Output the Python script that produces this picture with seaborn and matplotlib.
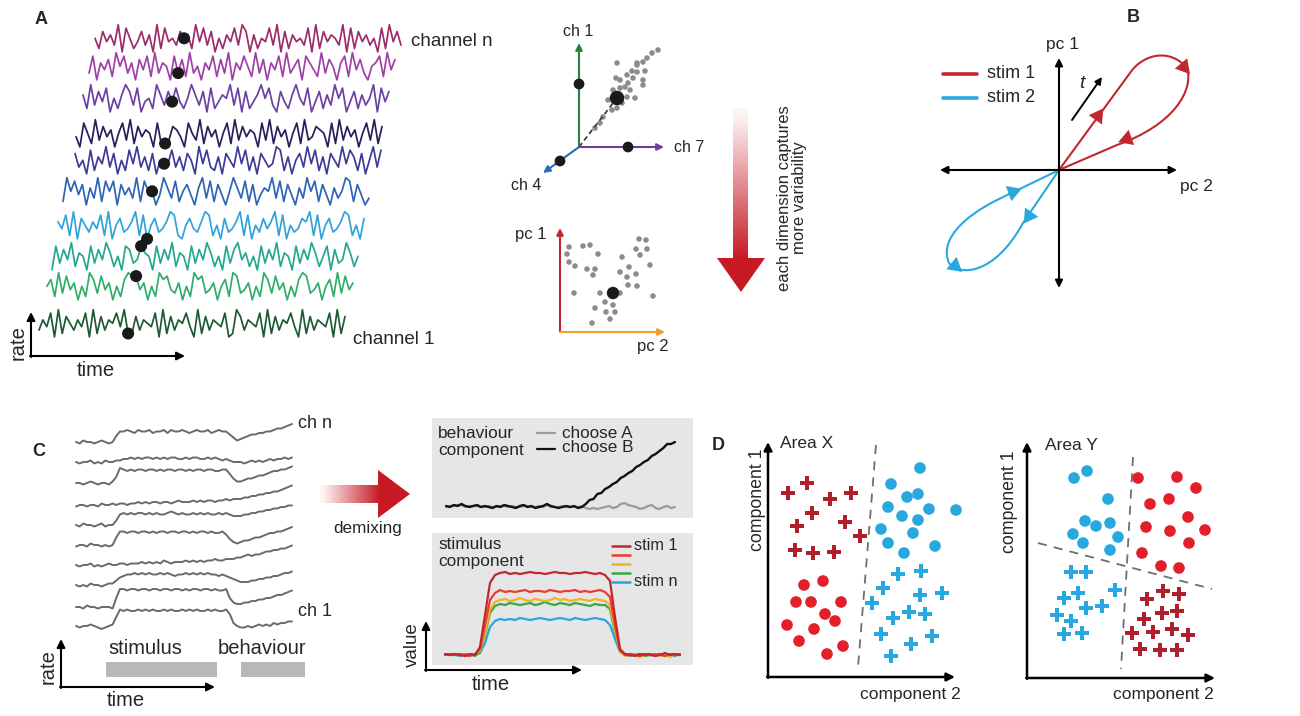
import matplotlib.pyplot as plt
import numpy as np
import pandas as pd
import seaborn as sns
from matplotlib.patches import Polygon, Rectangle, PathPatch
from matplotlib.path import Path

sns.set_theme(style="white")
plt.rcParams['font.family'] = ['Liberation Sans', 'DejaVu Sans']
plt.rcParams['font.size'] = 12

W, H = 1300, 716

# ---------------- data ----------------
# A: rate level per time bin (one digit per bin), channel n at top ... channel 1 at bottom
chan_rates = [
    "5274639185 2473619284 5375629483 7152648397 1625483917 2645381927 4653918274 6351829473",
    "3816472958 3617482936 5183729351 6482739164 8529371648 2935718642 9375168294 7315682947",
    "6293748152 6973814529 6374842596 3718246593 8172469583 1742695381 4726395814 7263591847",
    "4185293746 1583927465 1822376418 5392746158 2937465183 9274615829 3476518293 7461583927",
    "7351826493 7152849362 7154483627 5194832617 5394826175 3498261573 9482617539 4862715938",
    "2958471639 2858174639 2855149638 2574169382 7415963827 1465938274 1639582741 6359827413",
    "6482917536 4829157346 9281573469 8215743698 2517346928 1537469281 5347692815 7346982517",
    "1837492651 8374962518 7348651837 4926518374 9625183794 6251837492 6518374962 5817349625",
    "5729384615 2973846152 7988461529 7843615297 8346157298 3461529738 4615279834 6157293846",
    "3648192753 6481927365 8492273654 8192736584 1927365481 2973654819 2736584192 7365481927",
]
chan_colors = ["#9c2b6b", "#a03fa8", "#6b3fa3", "#24205a", "#3d3a98",
               "#2e64b5", "#30a3dc", "#22a88e", "#2fae6b", "#1c5a33"]
dot_bin = 23

# A: state in channel space (ch 7, ch 1) and its projections
cloud_x = [7.9, 7.3, 6.8, 6.4, 5.8, 5.3, 4.8, 4.1, 3.8, 3.7, 4.6, 4.9, 5.8, 6.4, 6.4, 5.6,
           4.8, 4.1, 3.4, 2.9, 3.8, 3.3, 2.4, 2.1, 1.6, 5.8, 6.6, 5.4, 5.1, 4.3]
cloud_y = [9.7, 9.4, 8.9, 8.5, 8.2, 7.6, 7.2, 6.7, 8.4, 6.9, 6.0, 6.4, 7.5, 6.7, 6.2, 4.9,
           5.0, 5.9, 5.7, 4.7, 3.9, 3.7, 3.0, 2.4, 1.9, 8.4, 7.6, 6.9, 5.7, 4.4]
proj_x = [0.0, 4.9, -1.9]
proj_y = [6.3, 0.0, -1.4]
state_x, state_y = 3.8, 4.9

# A: same states on pc 2 / pc 1
pc_x = [0.9, 2.3, 3.0, 0.7, 3.8, 0.9, 1.5, 2.7, 3.5, 3.3, 7.9, 8.6, 7.6, 8.7, 8.0, 6.2, 9.0,
        6.9, 6.0, 7.6, 6.7, 6.8, 7.7, 1.4, 4.0, 6.0, 9.3, 4.5, 5.3, 3.5, 4.6, 5.5, 5.0, 3.2]
pc_y = [8.5, 8.6, 8.7, 7.8, 7.8, 7.0, 6.6, 6.3, 6.3, 5.7, 9.3, 9.2, 8.3, 8.3, 7.7, 7.5, 6.7,
        6.5, 6.0, 5.8, 5.5, 4.7, 4.6, 3.9, 3.9, 3.9, 3.6, 3.0, 2.7, 2.4, 2.0, 2.0, 1.3, 0.9]
pc_state_x, pc_state_y = 5.3, 3.9

# B: trajectories (pc 2, pc 1) as bezier control points
traj1_x = [0, 7.1, 8.3, 11.0, 12.8, 13.5, 11.5, 5.8, 0]
traj1_y = [0, 9.7, 11.5, 12.3, 10.2, 8.0, 4.5, 2.5, 0]
traj2_x = [0, -6.0, -9.5, -12.0, -11.0, -10.0, -6.5, -3.6, 0]
traj2_y = [0, -2.9, -4.6, -7.0, -9.3, -10.6, -10.6, -5.3, 0]
arrow1_x, arrow1_y, arrow1_dir = [3.9, 12.5, 6.8], [5.4, 10.3, 3.1], [55, 70, 200]
arrow2_x, arrow2_y, arrow2_dir = [-4.6, -3.0, -10.4], [-2.2, -4.6, -9.6], [260, 235, 200]

# C: single-channel rates (hex digit per bin), channel n at top
c_rates = [
    "21322123212 69 9a98a99a899a8a99a989a99a89a99 753 456778899abbcde",
    "21223121322 33 44545455454545544545544545434 322 212323234344545",
    "22123212213 6c bababbabbababbabbababbabbaabb 853 345567789aabbcd",
    "12212213223 23 32334343443443454445454554556 566 6778899aabbcdef",
    "21322123122 59 a9a9aa9a9a99aba9a99a9a9a99a9a 988 899aabbccddeeff",
    "12213221212 7b babbabbababbabbabbababbabaab9 643 45567789aabbcde",
    "21223121232 23 32333434343543444545454556556 667 789899abbccddef",
    "21213221233 57 899a9a9a99a9a9899a9a9a9a99898 765 444556677889aab",
    "22132212221 8e edeedeedeedeedeededeedeededde 854 4556677889aabcd",
    "21223210123 8d cdccdcdcdccdcdccdcdcdccdcdccd a42 112123232434455",
]

# C: demixed components
beh_B = [1, 0, 2, 1, 3, 1, 0, 1, 2, 0, 1, 0, -1, 1, 0, 2, 1, 0, -1, 1, 2, 0, 1, -1, 0, 1, 3, 1, 0, -1,
         0, 1, 0, 1, -1, 0, 3, 7, 8, 13, 14, 18, 20, 23, 25, 29, 31, 34, 36, 40, 42, 45, 47, 51, 53,
         56, 59, 63, 63, 65]
beh_A = [0, 1, 1, 2, 2, 0, 1, 1, 1, 0, 0, 1, 0, 0, 1, 1, 0, 1, 0, 0, 1, 1, 0, 0, 1, 0, 2, 0, 0, 0,
         1, 0, 0, 0, 0, 1, -1, -2, -1, -2, -1, 0, 1, -1, 0, 3, 4, 2, 1, 0, -2, -1, 1, 2, -1, -2, 0,
         1, -1, 0]
stim_vals = {
    "stim n": [0, 1, 0, -1, 1, 0, 0, 2, 12, 28, 34, 36, 35, 36, 35, 37, 36, 35, 36, 37, 36, 35, 36, 37,
               36, 35, 37, 36, 35, 36, 37, 36, 35, 30, 16, 3, 0, -1, 1, 0, 1, 0, -1, 1, 0, 0, -1, 1],
    "stim 4": [1, 0, 0, 1, 0, 1, -1, 3, 20, 42, 49, 51, 50, 52, 51, 50, 51, 52, 50, 51, 53, 51, 50, 52,
               51, 50, 52, 51, 50, 49, 51, 50, 50, 46, 22, 4, 0, 1, 0, 1, -1, 0, 1, 0, -1, 1, 0, 0],
    "stim 3": [0, 0, 1, 1, -1, 0, 1, 4, 22, 45, 53, 55, 56, 54, 55, 57, 55, 54, 56, 55, 54, 55, 57, 55,
               56, 54, 55, 56, 55, 54, 56, 55, 54, 50, 25, 4, -1, 0, 1, -2, 0, 1, -1, 0, 0, -2, 1, 0],
    "stim 2": [0, 1, 0, 1, 0, -1, 1, 6, 30, 55, 62, 65, 63, 64, 63, 64, 65, 63, 64, 64, 63, 65, 64, 63,
               64, 64, 65, 63, 64, 63, 64, 65, 63, 58, 30, 5, 0, 1, 0, -1, 1, 0, 0, 1, -1, 1, 0, 1],
    "stim 1": [1, 0, 1, 0, -1, 1, 0, 8, 40, 72, 80, 82, 83, 81, 82, 81, 82, 83, 82, 82, 81, 82, 83, 82,
               82, 81, 82, 82, 83, 82, 81, 82, 80, 74, 38, 6, 1, 0, -1, 1, 0, 1, -1, 0, 2, 0, 1, 0],
}
stim_colors = {"stim 1": "#c1272d", "stim 2": "#ee3b2f", "stim 3": "#f4b023",
               "stim 4": "#36a847", "stim n": "#2aa6de"}

# D: Area X (component 2, component 1)
x_redplus_x = [2.0, 3.9, 6.2, 8.3, 4.4, 2.9, 7.7, 9.2, 2.7, 4.5, 6.6]
x_redplus_y = [18.4, 19.4, 17.8, 18.4, 16.4, 15.1, 15.5, 14.1, 12.7, 12.4, 12.5]
x_reddot_x = [3.6, 5.5, 2.8, 4.3, 7.3, 5.7, 6.7, 1.9, 4.6, 3.1, 7.5, 5.9]
x_reddot_y = [9.2, 9.6, 7.5, 7.5, 7.5, 6.3, 5.6, 5.2, 4.8, 3.6, 3.1, 2.3]
x_bluedot_x = [15.2, 12.3, 13.9, 15.0, 12.0, 13.4, 15.0, 16.1, 18.8, 11.3, 14.5, 12.0, 16.7, 13.6]
x_bluedot_y = [20.9, 19.3, 18.0, 18.3, 17.0, 16.1, 15.7, 16.8, 16.7, 14.8, 14.4, 13.4, 13.1, 12.4]
x_blueplus_x = [13.0, 15.3, 11.5, 15.2, 17.4, 10.4, 12.5, 14.1, 15.7, 11.3, 16.4, 14.3, 12.3]
x_blueplus_y = [10.3, 10.6, 8.9, 8.2, 8.4, 7.4, 5.9, 6.5, 6.3, 4.3, 4.1, 3.3, 2.1]
x_bound = ([10.8, 9.0], [23.2, 1.0])

# D: Area Y
y_bluedot_x = [4.7, 6.0, 8.1, 5.8, 6.9, 8.3, 4.6, 5.6, 9.1, 8.3]
y_bluedot_y = [20.0, 20.7, 17.9, 15.7, 15.2, 15.5, 14.4, 13.5, 14.1, 12.8]
y_reddot_x = [11.1, 15.0, 16.9, 12.3, 14.2, 16.1, 11.9, 14.3, 17.8, 16.2, 11.5, 13.4, 15.2]
y_reddot_y = [20.0, 20.1, 19.0, 17.4, 17.9, 16.1, 15.1, 14.7, 14.8, 13.5, 12.5, 11.2, 11.0]
y_blueplus_x = [4.4, 5.9, 3.7, 5.1, 8.8, 5.9, 7.5, 3.0, 4.4, 3.7, 5.5]
y_blueplus_y = [10.6, 10.6, 8.0, 8.5, 8.8, 7.0, 7.2, 6.3, 5.7, 4.4, 4.5]
y_redplus_x = [13.6, 15.2, 12.0, 13.5, 15.0, 11.7, 10.5, 12.6, 14.5, 16.1, 11.3, 13.3, 15.0]
y_redplus_y = [8.7, 8.4, 7.9, 6.5, 6.7, 5.9, 4.5, 4.6, 4.9, 4.3, 2.9, 2.8, 2.8]
y_bound1 = ([10.6, 9.4], [22.1, 0.9])
y_bound2 = ([1.1, 18.5], [13.5, 8.9])

RED = "#e3202a"
DARKRED = "#b01f2a"
BLUE = "#29a8e0"
TRAJ_RED = "#c1272d"

# ---------------- layout ----------------
fig = plt.figure(figsize=(13, 7.16), dpi=100)
ov = fig.add_axes([0, 0, 1, 1])
ov.set_axis_off()


def inset(x0, y0, x1, y1, xlim, ylim):
    a = fig.add_axes([x0 / W, 1 - y1 / H, (x1 - x0) / W, (y1 - y0) / H])
    a.set_xlim(*xlim)
    a.set_ylim(*ylim)
    a.set_axis_off()
    a.patch.set_alpha(0)
    return a


def arrow(ax, start, end, color="black", lw=1.5, style="-|>", ms=12):
    ax.annotate("", xy=end, xytext=start,
                arrowprops=dict(arrowstyle=style, color=color, lw=lw, mutation_scale=ms,
                                shrinkA=0, shrinkB=0))


# ---------- panel A: traces ----------
a_start = [95, 89, 83, 76, 75, 63, 58, 52, 47, 39]
a_base = [40, 68, 100, 135, 162, 193, 227, 258, 288, 325]
a_len = 306
frames, dots = [], []
for i, s in enumerate(chan_rates):
    lev = np.array([int(c) for c in s.replace(" ", "")])
    k = np.arange(len(lev))
    x = a_start[i] + k * a_len / (len(lev) - 1)
    y = a_base[i] + (4.5 - lev) * 3.4
    frames.append(pd.DataFrame({"x": x, "y": y, "ch": f"ch{i}"}))
    dots.append((x[dot_bin], y[dot_bin]))
df_a = pd.concat(frames, ignore_index=True)

axA = inset(25, 5, 425, 365, (25, 425), (365, 5))
sns.lineplot(data=df_a, x="x", y="y", hue="ch", palette=dict(zip([f"ch{i}" for i in range(10)], chan_colors)),
             estimator=None, sort=False, legend=False, linewidth=1.25, ax=axA)
sns.scatterplot(x=[d[0] for d in dots], y=[d[1] for d in dots], color="#1a1a1a", s=75,
                edgecolor="none", ax=axA, zorder=5)
axA.set_axis_off()

arrow(ov, (31, 357), (31, 312))
arrow(ov, (30, 356), (185, 356))
ov.text(41, 19, "A", fontsize=13, weight="bold", ha="center", va="center")
ov.text(411, 41, "channel n", fontsize=13.5, va="center")
ov.text(353, 340, "channel 1", fontsize=13.5, va="center")
ov.text(18, 343, "rate", fontsize=14.5, rotation=90, ha="center", va="center")
ov.text(96, 371, "time", fontsize=14.5, ha="center", va="center")

# ---------- panel A: channel space ----------
ax3 = inset(530, 20, 700, 200, (-4.9, 12.1), (-5.3, 12.7))
arrow(ax3, (0, 0), (0, 10.4), color="#2e7d3c", ms=10)
arrow(ax3, (0, 0), (8.5, 0), color="#6b3fa0", ms=10)
arrow(ax3, (0, 0), (-3.6, -2.6), color="#2b6cb5", ms=10)
sns.scatterplot(x=cloud_x, y=cloud_y, color="#8c8c8c", s=16, edgecolor="none", ax=ax3)
ax3.plot([0, state_x], [0, state_y], color="#333333", lw=1.2, ls=(0, (3, 2)))
sns.scatterplot(x=proj_x, y=proj_y, color="#1a1a1a", s=60, edgecolor="none", ax=ax3, zorder=5)
sns.scatterplot(x=[state_x], y=[state_y], color="#1a1a1a", s=110, edgecolor="none", ax=ax3, zorder=5)
ax3.set_axis_off()
ov.text(578, 32, "ch 1", fontsize=11.5, ha="center", va="center")
ov.text(674, 147, "ch 7", fontsize=11.5, va="center")
ov.text(526, 185, "ch 4", fontsize=11.5, ha="center", va="center")

axP = inset(540, 215, 680, 350, (-2.0, 12.0), (-1.8, 11.7))
arrow(axP, (0, 0), (0, 10.4), color="#c1272d", ms=10)
arrow(axP, (0, 0), (10.5, 0), color="#f39c2b", ms=10)
sns.scatterplot(x=pc_x, y=pc_y, color="#8c8c8c", s=16, edgecolor="none", ax=axP)
sns.scatterplot(x=[pc_state_x], y=[pc_state_y], color="#1a1a1a", s=80, edgecolor="none", ax=axP, zorder=5)
axP.set_axis_off()
ov.text(531, 235, "pc 1", fontsize=12, ha="center", va="center")
ov.text(653, 347, "pc 2", fontsize=12, ha="center", va="center")


def gradient_arrow(verts, extent, horizontal, ramp_len):
    n = 256
    rgba = np.zeros((n, 4))
    rgba[:, 0], rgba[:, 1], rgba[:, 2] = 0.78, 0.10, 0.14
    span = (extent[1] - extent[0]) if horizontal else (extent[2] - extent[3])
    rgba[:, 3] = np.clip(np.linspace(0, span, n) / ramp_len, 0.04, 1)
    img = rgba[None, :, :] if horizontal else rgba[:, None, :]
    poly = Polygon(verts, closed=True, fc="none", ec="none")
    ov.add_patch(poly)
    im = ov.imshow(img, extent=extent, origin="upper", aspect="auto", interpolation="bilinear")
    im.set_clip_path(poly)


gradient_arrow([(733, 108), (748, 108), (748, 258), (765, 258), (741, 292), (717, 258), (733, 258)],
               (717, 765, 292, 108), False, 150)
gradient_arrow([(320, 485), (378, 485), (378, 470), (410, 494), (378, 518), (378, 503), (320, 503)],
               (320, 410, 518, 470), True, 60)
ov.text(792, 198, "each dimension captures\nmore variability", fontsize=12, rotation=90,
        ha="center", va="center", multialignment="center", linespacing=1.05)

# ---------- panel B ----------
axB = inset(930, 40, 1200, 300, (-12.9, 14.1), (-13.0, 13.0))
arrow(axB, (-11.9, 0), (11.8, 0), style="<|-|>", ms=11)
arrow(axB, (0, -11.8), (0, 11.2), style="<|-|>", ms=11)
codes = [Path.MOVETO, Path.LINETO, Path.CURVE4, Path.CURVE4, Path.CURVE4,
         Path.CURVE4, Path.CURVE4, Path.CURVE4, Path.LINETO]
for tx, ty, col in [(traj1_x, traj1_y, TRAJ_RED), (traj2_x, traj2_y, BLUE)]:
    axB.add_patch(PathPatch(Path(np.column_stack([tx, ty]), codes), fc="none", ec=col, lw=1.5))
for ax_, ay_, ad_, col in [(arrow1_x, arrow1_y, arrow1_dir, TRAJ_RED), (arrow2_x, arrow2_y, arrow2_dir, BLUE)]:
    for px, py, d in zip(ax_, ay_, ad_):
        axB.scatter([px], [py], marker=(3, 0, d - 90), s=180, color=col, edgecolor="none", zorder=5)
arrow(axB, (1.3, 5.0), (4.3, 9.3), lw=1.4, ms=10)
ov.text(1133, 18, "B", fontsize=13, weight="bold", ha="center", va="center")
ov.text(1063, 44, "pc 1", fontsize=12.5, ha="center", va="center")
ov.text(1196, 187, "pc 2", fontsize=12.5, ha="center", va="center")
ov.plot([943, 977], [74, 74], color=TRAJ_RED, lw=2.6)
ov.plot([943, 977], [98, 98], color=BLUE, lw=2.6)
ov.text(987, 73, "stim 1", fontsize=13, va="center")
ov.text(987, 97, "stim 2", fontsize=13, va="center")
ov.text(1082, 83, "t", fontsize=14, style="italic", ha="center", va="center")

# ---------- panel C: raw traces ----------
c_base = [442, 462, 483, 505, 525, 545, 565, 585, 607, 626]
frames = []
for i, s in enumerate(c_rates):
    lev = np.array([int(c, 16) for c in s.replace(" ", "")])
    k = np.arange(len(lev))
    frames.append(pd.DataFrame({"x": 76 + k * 216 / (len(lev) - 1),
                                "y": c_base[i] + 3.0 - lev * 1.5, "ch": f"c{i}"}))
df_c = pd.concat(frames, ignore_index=True)
axC = inset(70, 405, 300, 640, (70, 300), (640, 405))
sns.lineplot(data=df_c, x="x", y="y", hue="ch", palette=["#6a6a6a"] * 10, estimator=None,
             sort=False, legend=False, linewidth=1.4, ax=axC)
axC.set_axis_off()

ov.text(39, 452, "C", fontsize=13, weight="bold", ha="center", va="center")
ov.text(298, 424, "ch n", fontsize=13, va="center")
ov.text(298, 612, "ch 1", fontsize=13, va="center")
ov.add_patch(Rectangle((106, 662), 111, 15, fc="#b8b8b8", ec="none"))
ov.add_patch(Rectangle((241, 662), 64, 15, fc="#b8b8b8", ec="none"))
ov.text(145, 649, "stimulus", fontsize=14.5, ha="center", va="center")
ov.text(262, 649, "behaviour", fontsize=14.5, ha="center", va="center")
arrow(ov, (61, 688), (61, 639))
arrow(ov, (60, 687), (215, 687))
ov.text(48, 667, "rate", fontsize=14.5, rotation=90, ha="center", va="center")
ov.text(126, 700, "time", fontsize=14.5, ha="center", va="center")
ov.text(368, 528, "demixing", fontsize=12.3, ha="center", va="center")

# ---------- panel C: components ----------
ov.add_patch(Rectangle((432, 418), 261, 100, fc="#e6e6e6", ec="none"))
ov.add_patch(Rectangle((432, 533), 261, 132, fc="#e6e6e6", ec="none"))

axBeh = inset(440, 430, 685, 515, (-1.55, 61.58), (-8, 77))
sns.lineplot(x=np.arange(len(beh_A)), y=beh_A, color="#9a9a9a", lw=1.6, ax=axBeh)
sns.lineplot(x=np.arange(len(beh_B)), y=beh_B, color="#111111", lw=1.7, ax=axBeh)
axBeh.set_axis_off()
ov.text(438, 426, "behaviour\ncomponent", fontsize=12.4, va="top", linespacing=1.15)
ov.plot([537, 555], [433, 433], color="#9a9a9a", lw=1.6)
ov.plot([537, 555], [449, 449], color="#111111", lw=1.6)
ov.text(562, 433, "choose A", fontsize=12.3, va="center")
ov.text(562, 447, "choose B", fontsize=12.3, va="center")

df_s = pd.concat([pd.DataFrame({"t": np.arange(len(v)), "v": v, "stim": k}) for k, v in stim_vals.items()],
                 ignore_index=True)
axS = inset(440, 560, 685, 665, (-1, 48), (-10, 95))
sns.lineplot(data=df_s, x="t", y="v", hue="stim", hue_order=list(stim_vals.keys()), palette=stim_colors,
             estimator=None, legend=False, linewidth=1.6, ax=axS)
axS.set_axis_off()
ov.text(438, 537, "stimulus\ncomponent", fontsize=12.4, va="top", linespacing=1.15)
for yy, key in zip([546, 555, 564, 573, 582], ["stim 1", "stim 2", "stim 3", "stim 4", "stim n"]):
    ov.plot([612, 630], [yy, yy], color=stim_colors[key], lw=1.8)
ov.text(634, 545, "stim 1", fontsize=11.8, va="center")
ov.text(634, 581, "stim n", fontsize=11.8, va="center")
arrow(ov, (426, 671), (426, 621))
arrow(ov, (425, 670), (582, 670))
ov.text(412, 645, "value", fontsize=13.5, rotation=90, ha="center", va="center")
ov.text(491, 684, "time", fontsize=14.5, ha="center", va="center")

# ---------- panel D ----------
def area_panel(ax, groups, bounds):
    arrow(ax, (0, -0.08), (0, ax.get_ylim()[1] - 1.2), lw=1.8)
    arrow(ax, (-0.08, 0), (ax.get_xlim()[1] - 1.5, 0), lw=1.8)
    for b in bounds:
        ax.plot(b[0], b[1], color="#6e6e6e", lw=1.3, ls=(0, (5, 4)))
    for gx, gy, mk, col in groups:
        sns.scatterplot(x=gx, y=gy, marker=mk, s=70 if mk == "o" else 95, color=col,
                        edgecolor="none", ax=ax, zorder=4, clip_on=False)
    ax.set_axis_off()


axDL = inset(760, 430, 970, 690, (-0.8, 20.2), (-1.3, 24.7))
area_panel(axDL, [(x_redplus_x, x_redplus_y, "P", DARKRED), (x_reddot_x, x_reddot_y, "o", RED),
                  (x_bluedot_x, x_bluedot_y, "o", BLUE), (x_blueplus_x, x_blueplus_y, "P", BLUE)],
           [x_bound])
axDR = inset(1020, 430, 1230, 690, (-0.7, 20.3), (-1.2, 24.8))
area_panel(axDR, [(y_bluedot_x, y_bluedot_y, "o", BLUE), (y_reddot_x, y_reddot_y, "o", RED),
                  (y_blueplus_x, y_blueplus_y, "P", BLUE), (y_redplus_x, y_redplus_y, "P", DARKRED)],
           [y_bound1, y_bound2])

ov.text(718, 445, "D", fontsize=13, weight="bold", ha="center", va="center")
ov.text(780, 443, "Area X", fontsize=12.5, va="center")
ov.text(1045, 446, "Area Y", fontsize=12.5, va="center")
ov.text(757, 500, "component 1", fontsize=12.8, rotation=90, ha="center", va="center")
ov.text(1010, 502, "component 1", fontsize=12.8, rotation=90, ha="center", va="center")
ov.text(910, 695, "component 2", fontsize=12.5, ha="center", va="center")
ov.text(1163, 695, "component 2", fontsize=12.5, ha="center", va="center")

ov.set_xlim(0, W)
ov.set_ylim(H, 0)
fig.savefig("out.png", dpi=100)
